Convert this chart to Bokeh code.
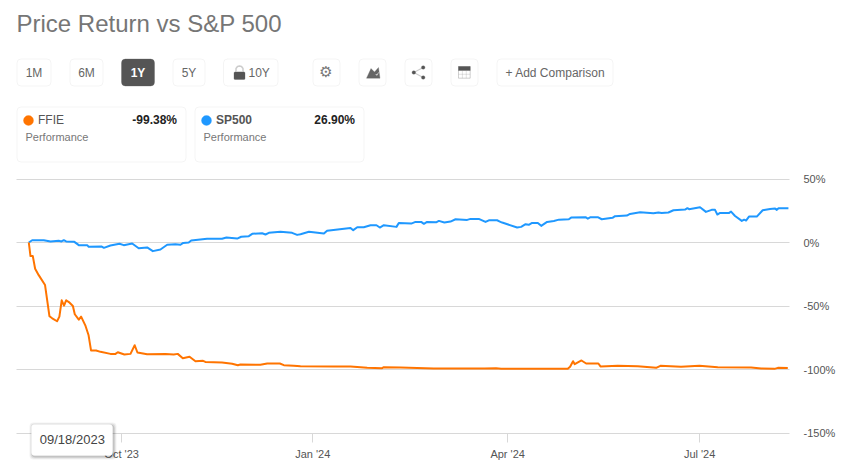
from datetime import datetime, timedelta
from bokeh.embed import file_html
from bokeh.resources import INLINE
from bokeh.plotting import figure
from bokeh.models import (BoxAnnotation, Label, PolyAnnotation, Range1d, FixedTicker, DatetimeAxis, LinearAxis, Grid,
                          DatetimeTickFormatter, PrintfTickFormatter)

START = datetime(2023, 8, 18)
EPOCH = datetime(1970, 1, 1)
TITLE = "Price Return vs S&P 500"
RANGES = ["1M", "6M", "1Y", "5Y", "10Y"]
NAMES = ["FFIE", "SP500"]
PERF = ["-99.38%", "26.90%"]
TIP = "09/18/2023"
# the source axis skips non-trading days, so its January tick falls at the close of December on a calendar scale
TICK_DATES = [datetime(2023, 10, 1), datetime(2023, 12, 30, 14), datetime(2024, 4, 1), datetime(2024, 7, 1)]
TICK_LABELS = ["Oct '23", "Jan '24", "Apr '24", "Jul '24"]
Y_TICKS = [50, 0, -50, -100, -150]
ORANGE = "#ff7400"
BLUE = "#1f98ff"

sp_days = [0, 1.6, 7.1, 10.3, 14.2, 15.5, 16.6, 17.7, 21.6, 23.7, 27.7, 28.4, 34.4, 35.6, 38.7, 43, 45, 49, 52.1, 56.1,
           58.8, 62.4, 65.6, 69.5, 71.9, 73.2, 75.8, 77, 84.5, 91.6, 93.7, 98.8, 100.7, 104.3, 105.9, 110.6, 112.2,
           113.8, 119.3, 124.8, 127.2, 128.8, 132.8, 139.9, 141.4, 152.5, 153.8, 155.7, 158.8, 162, 164.8, 166.4,
           168.3, 174.3, 175.4, 181.3, 183.3, 186, 187.3, 188.8, 193.3, 194.4, 197, 199.9, 202.3, 207.8, 209.4,
           213.3, 216.5, 218.1, 222, 223.3, 224.4, 231.5, 233.4, 235.5, 237, 238.6, 241.3, 242.9, 245.7, 248.9,
           251.3, 256, 257.1, 263.9, 265, 266.3, 269.7, 271.6, 276.7, 277.9, 283.5, 285, 289.8, 296.1, 298.5, 300,
           303.2, 305.6, 311.1, 312.2, 313, 318.2, 321, 323.7, 325.3, 326.4, 327.7, 332, 332.9, 334.8, 338, 339.1,
           340, 341.4, 345.1, 347.9, 351.4, 353.8, 354.6, 355.4, 360.1]
sp_ret = [0, 1.8, 1.8, 0.8, 1.3, 0.8, 1.8, 0.8, 0.5, -2.1, -2.1, -3.4, -3.1, -4.2, -2.4, -1, -2.1, -0.8, -4.5, -3.9,
          -6.8, -5.5, -1.8, -1.3, -1.8, -0.3, 0, 1.6, 2.9, 2.9, 3.9, 3.1, 4.5, 5, 6.8, 7.3, 6.3, 7.6, 8.4, 7.6, 6, 6.5,
          8.4, 7, 9.2, 11.5, 9.7, 12, 12, 13.6, 13.6, 11.8, 13.6, 12.3, 15.4, 14.9, 16.2, 16.2, 14.7, 16.2, 16, 17,
          15.7, 16.5, 18.3, 17.8, 18.6, 18.6, 16.2, 17.5, 17.5, 16.5, 15.7, 11.8, 12.3, 14.4, 13.9, 15.4, 15.4, 13.1,
          16.2, 17, 18, 18.3, 19.6, 19.9, 18.8, 19.9, 19.9, 18.3, 19.4, 20.7, 21.2, 22.5, 23.8, 23, 23.6, 23.3, 23.6,
          25.4, 25.9, 27, 26.2, 27.7, 24.1, 25.7, 25.7, 22, 23.3, 23.3, 24.3, 20.9, 17, 18, 17.3, 20.4, 20.4, 25.4,
          26.4, 26.7, 25.7, 27, 26.9]

ffie_days = [0, 0.8, 1.9, 3, 4.7, 7.7, 9.8, 11.1, 13.4, 14.5, 15.6, 16.7, 17.7, 19, 20.9, 21.8, 23.7, 24.8, 26.9, 28.3,
             29.5, 31.9, 34, 38.7, 41.1, 42.2, 45.3, 48.2, 50.2, 51.5, 56.1, 64.8, 68.7, 70.6, 73, 76.2, 79, 82.6, 83.7,
             91.6, 96.4, 99.1, 100.3, 109.8, 113, 119, 120.9, 125.6, 128.8, 144.6, 152.5, 160.4, 167.5, 168.3, 176.2,
             192, 216, 221.5, 223.9, 255.5, 256.6, 258, 258.8, 262, 264.2, 270, 271, 279.2, 288.7, 297.4, 299.4, 309.2,
             317.9, 326.6, 342.4, 347.2, 353.5, 355.1, 359.8]
ffie_ret = [0, -10.7, -10.7, -20.7, -25.7, -33.5, -58.1, -59.7, -62, -58.4, -45.5, -49.7, -45.5, -46.9, -50, -56.5,
            -60.7, -58.4, -65.7, -72.8, -85, -85, -86.1, -87.7, -87.7, -86.4, -88.2, -87.7, -80.9, -86.6, -88, -87.7,
            -88.2, -87.7, -91.1, -90, -93.5, -93.2, -94, -94.5, -95.5, -96.6, -96, -96.3, -95.3, -95.3, -96.6, -97.1,
            -97.5, -97.6, -97.6, -98.7, -99, -98.2, -98.4, -99.2, -99.2, -99, -99.5, -99.5, -97.9, -93.5, -95.8, -92.9,
            -95.3, -95.3, -97.6, -97.1, -97.4, -98.7, -97.1, -97.9, -97.1, -98.2, -98.4, -99.2, -99.5, -98.7, -98.9]


def to_dates(days):
    return [START + timedelta(days=d) for d in days]


def ms(d):
    return (d - EPOCH).total_seconds() * 1000


W, H = 860, 467
PX_DAY = 2.1095
PX_PCT = 1.27
X0_PX, Y0_PX = 28.3, 242.0
GRID_L = START + timedelta(days=(16 - X0_PX) / PX_DAY)
GRID_R = START + timedelta(days=(789 - X0_PX) / PX_DAY)

p = figure(width=W, height=H, output_backend="svg", toolbar_location=None,
           x_axis_type=None, y_axis_type=None,
           x_range=Range1d(START - timedelta(days=X0_PX / PX_DAY), START + timedelta(days=(W - X0_PX) / PX_DAY)),
           y_range=Range1d((Y0_PX - H) / PX_PCT, Y0_PX / PX_PCT),
           min_border=0, min_border_left=0, min_border_right=0, min_border_top=0, min_border_bottom=0)
p.outline_line_color = None

xa = DatetimeAxis(fixed_location=-150)
xa.ticker = FixedTicker(ticks=[ms(d) for d in TICK_DATES])
xa.major_label_overrides = {ms(d): t for d, t in zip(TICK_DATES, TICK_LABELS)}
xa.axis_line_color = None
xa.major_tick_line_color = "#d8d8d8"
xa.major_tick_out = 9
xa.major_tick_in = 0
xa.minor_tick_line_color = None
xa.major_label_text_font = "Liberation Sans"
xa.major_label_text_font_size = "11px"
xa.major_label_text_color = "#555555"
xa.major_label_standoff = 6
p.add_layout(xa, "below")

ya = LinearAxis(fixed_location=ms(GRID_R))
ya.ticker = FixedTicker(ticks=Y_TICKS)
ya.formatter = PrintfTickFormatter(format="%d%%")
ya.axis_line_color = None
ya.major_tick_line_color = None
ya.minor_tick_line_color = None
ya.major_label_text_font = "Liberation Sans"
ya.major_label_text_font_size = "11px"
ya.major_label_text_color = "#555555"
ya.major_label_text_align = "left"
ya.major_label_standoff = 8
p.add_layout(ya, "right")

p.add_layout(Grid(dimension=1, ticker=FixedTicker(ticks=Y_TICKS), grid_line_color="#d8d8d8",
                  cross_bounds=(ms(GRID_L), ms(GRID_R))), "center")

p.line(to_dates(sp_days), sp_ret, line_color=BLUE, line_width=2, line_join="round")
p.line(to_dates(ffie_days), ffie_ret, line_color=ORANGE, line_width=2, line_join="round")


def box(x0, y0, x1, y1, fill="#ffffff", line="#d9d9d9", radius=4, alpha=1.0, lw=1):
    p.add_layout(BoxAnnotation(left=x0, right=x1, top=y0, bottom=y1,
                               left_units="canvas", right_units="canvas", top_units="canvas", bottom_units="canvas",
                               fill_color=fill, fill_alpha=alpha, line_color=line, line_width=lw,
                               border_radius=radius, level="overlay"))


def text(x, y, s, size=12, color="#555555", align="left", style="normal", font="Liberation Sans"):
    p.add_layout(Label(x=x, y=y, x_units="canvas", y_units="canvas", text=s,
                       text_font=font, text_font_size=f"{size}px", text_color=color, text_align=align,
                       text_baseline="middle", text_font_style=style, level="overlay"))


def poly(pts, fill="#666666", line="#666666", lw=1, alpha=1.0):
    p.add_layout(PolyAnnotation(xs=[a for a, _ in pts], ys=[b for _, b in pts],
                                xs_units="canvas", ys_units="canvas", fill_color=fill, fill_alpha=alpha,
                                line_color=line, line_width=lw, level="overlay"))


text(16, 23, TITLE, size=24, color="#767676")

BTNS = [(16.5, 50.5), (69.5, 102.5), (121, 154), (172.5, 204.5), (223, 277.5)]
for i, (lab, (a, b)) in enumerate(zip(RANGES, BTNS)):
    active = lab == "1Y"
    box(a, 58.5, b, 85.5, fill="#555555" if active else "#ffffff", line="#555555" if active else "#d9d9d9")
    if lab == "10Y":
        text(248, 72, lab, color="#666666")
    else:
        text((a + b) / 2, 72, lab, color="#ffffff" if active else "#666666", align="center",
             style="bold" if active else "normal")
# lock
box(233.5, 71.5, 244.5, 79, fill="#555555", line="#555555", radius=1)
poly([(235.5, 71.5), (235.5, 68), (237, 66), (239, 65.5), (241, 66), (242.5, 68), (242.5, 71.5)],
     fill="#ffffff", line="#555555", lw=1.5)

for a, b in [(312.5, 339.5), (358.5, 385.5), (404.5, 431.5), (450.5, 477.5), (496.5, 612.5)]:
    box(a, 58.5, b, 85.5)
text(325.5, 71.5, "\u2699", size=15, color="#777777", align="center", font="DejaVu Sans")
poly([(366, 77.7), (370.5, 68), (374, 71.5), (378, 67), (379.5, 77.7)])
poly([(375, 74), (376.5, 75), (378.5, 71.5), (376.5, 74)], fill="#ffffff", line="#ffffff", lw=0.6)
# share
poly([(422.7, 67), (413.3, 72), (422.7, 77), (413.3, 72)], line="#555555", lw=1.2)
for cx, cy in [(413.3, 72), (422.7, 67), (422.7, 77)]:
    box(cx - 1.8, cy - 1.8, cx + 1.8, cy + 1.8, fill="#555555", line="#555555", radius=2)
# table
box(458, 66, 469.7, 77.7, fill="#ffffff", line="#666666", radius=0)
box(458, 66, 469.7, 70, fill="#555555", line="#555555", radius=0)
poly([(458, 73.8), (469.7, 73.8)], line="#888888", lw=0.8)
poly([(461.9, 70), (461.9, 77.7)], line="#888888", lw=0.8)
poly([(465.8, 70), (465.8, 77.7)], line="#888888", lw=0.8)
text(505, 72, "+ Add Comparison", color="#666666")

for i, (x0, col) in enumerate([(16.5, ORANGE), (194.5, BLUE)]):
    box(x0, 106.5, x0 + 169, 161.5)
    box(x0 + 6.5, 115, x0 + 16.5, 125, fill=col, line=col, radius=5)
    text(x0 + 21, 119.5, NAMES[i], color="#555555", style="bold" if i == 1 else "normal")
    text(x0 + 160, 119.5, PERF[i], color="#222222", align="right", style="bold")
    text(x0 + 8.5, 136.5, "Performance", size=11, color="#777777")

# tooltip with soft shadow
for grow, al in [(3, 0.05), (2, 0.08), (1, 0.12)]:
    box(31 - grow + 1, 424 - grow + 1, 112 + grow + 1, 455 + grow + 1, fill="#000000", line=None, radius=4, alpha=al)
box(31, 424, 112, 455, fill="#ffffff", line="#ffffff", radius=3)
text(39.3, 439, TIP, size=13, color="#444444")

open("out.html", "w").write(file_html(p, INLINE))
